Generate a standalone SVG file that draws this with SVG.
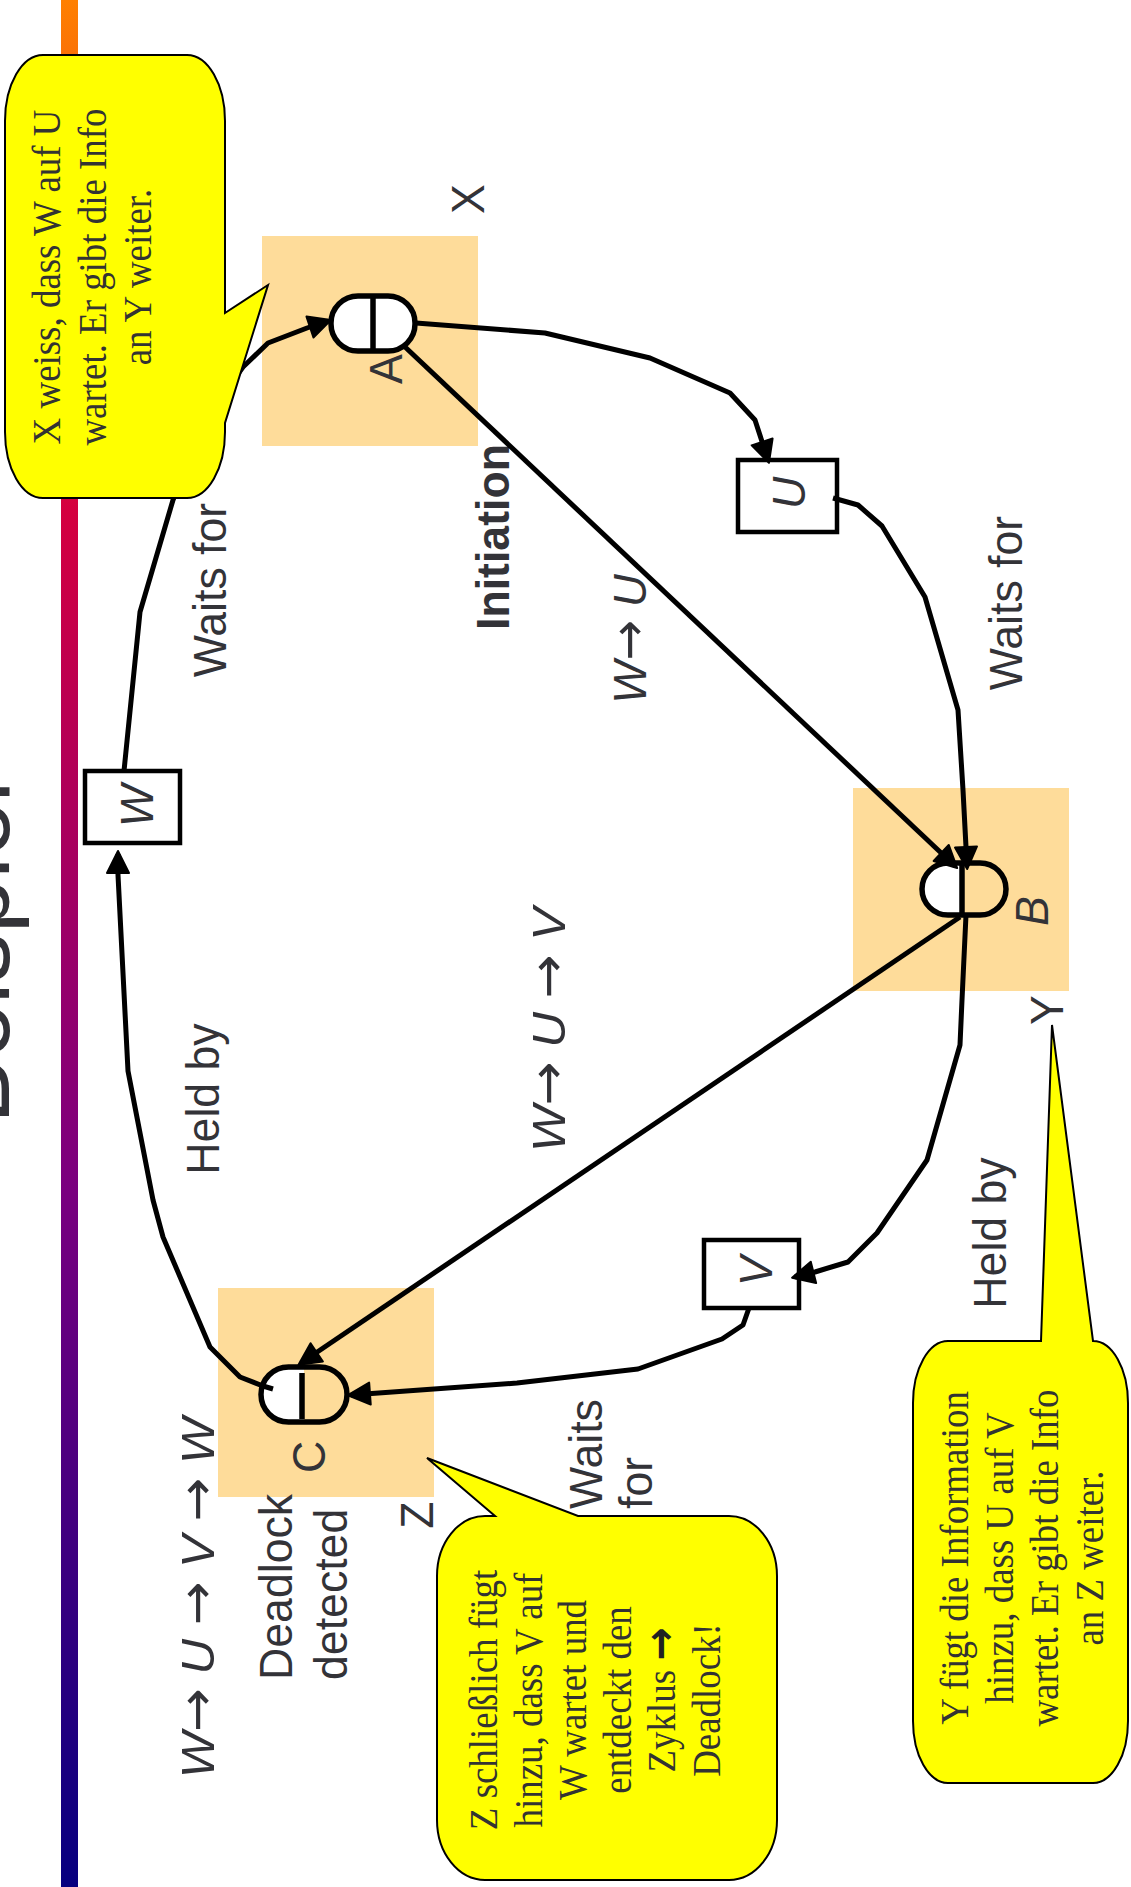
<svg xmlns="http://www.w3.org/2000/svg" width="1131" height="1887" viewBox="0 0 1131 1887">
  <defs>
    <linearGradient id="barGrad" x1="0" y1="0" x2="0" y2="1">
      <stop offset="0" stop-color="#FF8000"/>
      <stop offset="0.27" stop-color="#D4003F"/>
      <stop offset="0.63" stop-color="#7A007F"/>
      <stop offset="1" stop-color="#06007F"/>
    </linearGradient>
    <marker id="arrow" viewBox="0 0 26 26" refX="21" refY="13" markerWidth="26" markerHeight="26" markerUnits="userSpaceOnUse" orient="auto">
      <path d="M2 2 L24 13 L2 24 Z" fill="#000" stroke="#000" stroke-width="2" stroke-linejoin="round"/>
    </marker>
    <style>
      .lbl { font-family: "Liberation Sans", Arial, sans-serif; font-size: 47px; fill: #333338; }
      .title { font-family: "Liberation Sans", Arial, sans-serif; font-size: 98px; fill: #333338; }
      .mid { text-anchor: middle; }
      .it { font-style: italic; }
      .bold { font-weight: bold; }
      .to { font-family: "DejaVu Sans", sans-serif; font-size: 50px; font-style: normal; }
      .note { font-family: "Liberation Serif", "Times New Roman", serif; font-size: 41px; fill: #333333; text-anchor: middle; }
      .site { fill: #FEDC9A; }
      .pill { fill: none; stroke: #000; stroke-width: 5.5; }
      .half { fill: #fff; }
      .div { stroke: #000; stroke-width: 5.5; }
      .res { fill: #fff; stroke: #000; stroke-width: 4.5; }
      .conn { fill: none; stroke: #000; stroke-width: 5; stroke-linejoin: round; }
      .arr { marker-end: url(#arrow); }
      .callout { fill: #FFFF00; stroke: #000; stroke-width: 2; }
    </style>
  </defs>

  <rect width="1131" height="1887" fill="#fff"/>

  <!-- title, partly outside the page -->
  <text class="title" transform="translate(9 1124) rotate(-90)">Beispiel</text>

  <!-- gradient band -->
  <rect x="61" y="0" width="17" height="1887" fill="url(#barGrad)"/>

  <!-- sites -->
  <g id="site-X">
    <rect class="site" x="262" y="236" width="216" height="210"/>
    <text class="lbl mid" transform="translate(484 199) rotate(-90) scale(0.95 1)">X</text>
  </g>
  <g id="site-Y">
    <rect class="site" x="853" y="788" width="216" height="203"/>
    <text class="lbl mid" transform="translate(1063 1010) rotate(-90) scale(0.95 1)">Y</text>
  </g>
  <g id="site-Z">
    <rect class="site" x="218" y="1288" width="216" height="209"/>
    <text class="lbl mid" transform="translate(433 1515) rotate(-90) scale(0.95 1)">Z</text>
  </g>

  <!-- edge labels -->
  <g id="labels">
    <text class="lbl mid" transform="translate(226 590) rotate(-90) scale(0.95 1)">Waits for</text>
    <text class="lbl mid" transform="translate(219 1099) rotate(-90) scale(0.95 1)">Held by</text>
    <text class="lbl mid bold" transform="translate(509 537) rotate(-90) scale(0.95 1)">Initiation</text>
    <text class="lbl mid" transform="translate(646 639) rotate(-90) scale(0.97 1)"><tspan class="it">W</tspan><tspan class="to">→</tspan> <tspan class="it">U</tspan></text>
    <text class="lbl mid" transform="translate(1022 603) rotate(-90) scale(0.95 1)">Waits for</text>
    <text class="lbl mid" transform="translate(565 1030) rotate(-90) scale(1.05 1)"><tspan class="it">W</tspan><tspan class="to">→</tspan> <tspan class="it">U</tspan> <tspan class="to">→</tspan> <tspan class="it">V</tspan></text>
    <text class="lbl mid" transform="translate(1006 1233) rotate(-90) scale(0.95 1)">Held by</text>
    <text class="lbl" transform="translate(602 1509) rotate(-90) scale(0.95 1)"><tspan x="0">Waits</tspan><tspan x="0" dy="50">for</tspan></text>
    <text class="lbl mid" transform="translate(214 1598) rotate(-90) scale(1.045 1)"><tspan class="it">W</tspan><tspan class="to">→</tspan> <tspan class="it">U</tspan> <tspan class="to">→</tspan> <tspan class="it">V</tspan> <tspan class="to">→</tspan> <tspan class="it">W</tspan></text>
    <text class="lbl" transform="translate(292 1680) rotate(-90) scale(0.95 1)"><tspan x="0">Deadlock</tspan><tspan x="0" dy="55">detected</tspan></text>
  </g>

  <!-- processes -->
  <g id="node-A">
    <rect class="half" x="331" y="296" width="84" height="55" rx="27"/>
    <rect class="pill" x="331" y="296" width="84" height="55" rx="27"/>
    <line class="div" x1="373" y1="298" x2="373" y2="349"/>
    <text class="lbl mid" transform="translate(402 369) rotate(-90) scale(0.95 1)">A</text>
  </g>
  <g id="node-B">
    <path class="half" d="M964 863 H949 A26 26 0 0 0 949 915 H964 Z"/>
    <rect class="pill" x="922" y="863" width="84" height="52" rx="26"/>
    <line class="div" x1="962" y1="865" x2="962" y2="913"/>
    <text class="lbl mid it" transform="translate(1048 911) rotate(-90) scale(0.95 1)">B</text>
  </g>
  <g id="node-C">
    <path class="half" d="M304 1367 H288.5 A27.5 27.5 0 0 0 288.5 1422 H304 Z"/>
    <rect class="pill" x="261" y="1367" width="86" height="55" rx="27.5"/>
    <line class="div" x1="302" y1="1373" x2="302" y2="1419"/>
    <text class="lbl mid" transform="translate(325 1457) rotate(-90) scale(0.95 1)">C</text>
  </g>

  <!-- resources -->
  <g id="res-W">
    <rect class="res" x="85" y="771" width="95" height="72"/>
    <text class="lbl mid it" transform="translate(153 806) rotate(-90) scale(0.95 1)">W</text>
  </g>
  <g id="res-U">
    <rect class="res" x="738" y="460" width="99" height="72"/>
    <text class="lbl mid it" transform="translate(805 493) rotate(-90) scale(0.95 1)">U</text>
  </g>
  <g id="res-V">
    <rect class="res" x="704" y="1240" width="95" height="68"/>
    <text class="lbl mid it" transform="translate(772 1271) rotate(-90) scale(0.95 1)">V</text>
  </g>

  <!-- wait-for edges and probe messages -->
  <g id="connectors">
    <path class="conn arr" d="M124 771 L140 612 L173 500 L205 420 L243 367 L268 343 L307 328 L328 321"/>
    <path class="conn arr" d="M416 323 L545 333 L650 358 L730 393 L755 420 L768 460"/>
    <path class="conn arr" d="M833 498 L858 505 L882 526 L925 597 L958 710 L963 790 L967 866"/>
    <path class="conn arr" d="M404 346 L955 866"/>
    <path class="conn arr" d="M960 917 L301 1363"/>
    <path class="conn arr" d="M966 915 L962 1000 L960 1045 L927 1160 L877 1233 L848 1262 L815 1272 L795 1277"/>
    <path class="conn arr" d="M749 1308 L743 1325 L722 1339 L638 1369 L517 1383 L351 1395"/>
    <path class="conn arr" d="M273 1389 L263 1386 L240 1377 L210 1347 L163 1237 L153 1200 L128 1071 L118 875 L118 854"/>
  </g>

  <!-- notes -->
  <g id="note-X">
    <path class="callout" d="M43 55 H187 A38 66 0 0 1 225 121 V313 L268 285 L225 423 V432 A38 66 0 0 1 187 498 H43 A38 66 0 0 1 5 432 V121 A38 66 0 0 1 43 55 Z"/>
    <text class="note" transform="translate(60 277) rotate(-90) scale(0.9 1)"><tspan x="0">X weiss, dass W auf U</tspan><tspan x="0" dy="46">wartet. Er gibt die Info</tspan><tspan x="0" dy="45">an Y weiter.</tspan></text>
  </g>
  <g id="note-Y">
    <path class="callout" d="M948 1341 H1041 L1052 1025 L1093 1341 A35 62 0 0 1 1128 1403 V1721 A35 62 0 0 1 1093 1783 H948 A35 62 0 0 1 913 1721 V1403 A35 62 0 0 1 948 1341 Z"/>
    <text class="note" transform="translate(968 1558) rotate(-90) scale(0.9 1)"><tspan x="0">Y fügt die Information</tspan><tspan x="0" dy="45">hinzu, dass U auf V</tspan><tspan x="0" dy="45">wartet. Er gibt die Info</tspan><tspan x="0" dy="45">an Z weiter.</tspan></text>
  </g>
  <g id="note-Z">
    <path class="callout" d="M485 1516 H495 L427 1458 L578 1516 H729 A48 60 0 0 1 777 1576 V1820 A48 60 0 0 1 729 1880 H485 A48 60 0 0 1 437 1820 V1576 A48 60 0 0 1 485 1516 Z"/>
    <text class="note" transform="translate(497 1700) rotate(-90) scale(0.9 1)"><tspan x="0">Z schließlich fügt</tspan><tspan x="0" dy="44.6">hinzu, dass V auf</tspan><tspan x="0" dy="44.6">W wartet und</tspan><tspan x="0" dy="44.6">entdeckt den</tspan><tspan x="0" dy="44.6">Zyklus <tspan font-family="DejaVu Sans, sans-serif" font-weight="bold" font-size="44" fill="#222">→</tspan></tspan><tspan x="0" dy="44.6">Deadlock!</tspan></text>
  </g>
</svg>
